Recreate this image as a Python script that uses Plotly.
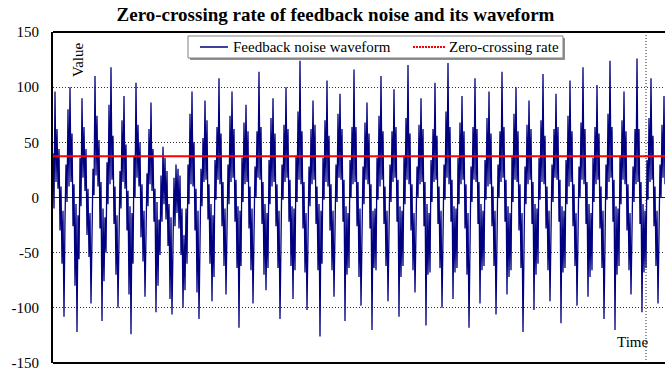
import plotly.graph_objects as go

# Feedback noise waveform samples, one value per time step (grouped in segments)
wave_seg1 = [
    40, -10, 96, 14, 62, 8, 44, -30, 10, -60, -12, -108, -20,
    30, -4, 80, 10, 100, 14, 58, -26, 12, -80, -6, -122, -16, -56,
    36, -8, 90, 18, 64, 6, 44, -34, 8, -54, -14, -96, -22,
    26, 2, 110, 20, 74, 10, 52, -28, 14, -112, -10, -76, -18, -50,
    32, -6, 84, 12, 118, 16, 56, -24, 10, -70, -16, -100, -26,
    24, -10, 70, 14, 92, 8, 48, -30, 6, -88, -8, -124, -14, -60,
    38, 0, 104, 18, 66, 10, 50, -36, 12, -58, -12, -90, -18,
    22, -8, 62, 12, 86, 6, 44, -22, 8, -104, -4, -80, -20, -52,
]
wave_seg2 = [
    20, -22, 46, -6, 36, -20, 24, -44, -6, -92, -18, -106, -30,
    18, -26, 30, -14, 26, -28, 20, -52, -10, -100, -34, -84, -10, -60,
    30, -6, 76, 12, 96, 10, 50, -30, 8, -86, -12, -110, -16,
    26, -8, 54, 14, 88, 16, 70, -20, 12, -60, -6, -94, -16, -72,
    34, -2, 64, 16, 108, 12, 58, -26, 14, -62, -10, -88, -14,
    30, -6, 74, 14, 96, 18, 62, -22, 16, -64, -8, -118, -12, -62,
    36, -4, 68, 12, 84, 14, 60, -28, 10, -66, -10, -96, -18,
    28, 0, 60, 18, 114, 16, 64, -24, 14, -70, -6, -84, -14, -64,
]
wave_seg3 = [
    34, -6, 72, 10, 90, 14, 58, -26, 12, -64, -12, -110, -16,
    30, -2, 66, 14, 100, 18, 62, -22, 16, -62, -8, -92, -10, -66,
    38, -4, 78, 16, 124, 12, 60, -28, 14, -68, -14, -102, -12,
    28, -8, 62, 12, 88, 16, 66, -24, 10, -66, -6, -126, -12, -60,
    36, -2, 70, 14, 106, 10, 56, -30, 12, -66, -12, -90, -18,
    30, -4, 76, 18, 94, 16, 62, -22, 16, -112, -8, -70, -14, -64,
    34, 0, 64, 12, 116, 14, 64, -26, 14, -72, -10, -98, -16,
    28, -6, 68, 16, 86, 12, 58, -28, 12, -120, -12, -64, -10, -66,
]
wave_seg4 = [
    36, -2, 74, 10, 110, 16, 60, -24, 10, -62, -12, -94, -14,
    30, -4, 60, 14, 98, 18, 64, -22, 16, -108, -8, -72, -12, -62,
    38, -6, 72, 16, 120, 12, 58, -30, 12, -66, -14, -86, -18,
    28, 0, 66, 12, 90, 14, 62, -26, 14, -116, -6, -70, -14, -68,
    34, -4, 62, 14, 104, 16, 56, -24, 10, -64, -12, -100, -16,
    30, -2, 78, 18, 122, 12, 64, -22, 16, -92, -8, -68, -10, -64,
    36, -6, 68, 12, 92, 16, 60, -28, 12, -70, -14, -118, -12,
    28, -4, 64, 16, 108, 14, 62, -24, 14, -96, -6, -66, -12, -62,
]
wave_seg5 = [
    34, -2, 72, 10, 96, 12, 58, -26, 10, -62, -12, -106, -18,
    30, 0, 60, 14, 114, 18, 64, -22, 16, -88, -8, -72, -14, -66,
    38, -4, 76, 16, 100, 14, 60, -30, 12, -64, -14, -122, -14,
    28, -6, 66, 12, 88, 16, 62, -24, 14, -102, -6, -70, -10, -60,
    36, -2, 70, 14, 112, 12, 56, -28, 10, -66, -12, -94, -16,
    30, -4, 62, 18, 94, 16, 64, -22, 16, -114, -8, -68, -12, -64,
    34, -6, 74, 10, 106, 14, 60, -26, 12, -62, -14, -98, -18,
]
wave_seg6 = [
    28, 0, 68, 16, 118, 12, 62, -24, 14, -90, -6, -72, -14, -66,
    36, -4, 64, 12, 102, 16, 58, -28, 10, -64, -12, -110, -14,
    30, -2, 76, 14, 124, 18, 64, -22, 16, -120, -8, -70, -10, -62,
    38, -6, 70, 16, 96, 12, 60, -30, 12, -66, -14, -88, -16,
    28, -4, 62, 12, 126, 14, 62, -24, 14, -104, -6, -68, -12, -64,
    34, -2, 72, 14, 108, 16, 56, -26, 10, -62, -12, -96, -18,
    30, 0, 66, 18, 92, 12, 64, -22, 16, -116, -8, -72, -14, -66,
    36, -4, 74, 10, 104, 14, 60, -28, 12, -64, -14, -92, -16,
]

# Zero-crossing rate level
zcr_level = 37.5

# Axis settings
y_ticks = [-150, -100, -50, 0, 50, 100, 150]
y_range = [-150, 150]
visible_steps = 612
time_marker_step = 593

waveform = wave_seg1 + wave_seg2 + wave_seg3 + wave_seg4 + wave_seg5 + wave_seg6
steps = list(range(len(waveform)))

SERIF = "Liberation Serif, Times New Roman, serif"
WAVE_COLOR = "#000080"
ZCR_COLOR = "#ff0000"

# plot-area geometry in pixels (used to place legend pieces in paper units)
L, R, T, B = 53, 665, 32, 363


def px_x(x):
    return (x - L) / (R - L)


def px_y(y):
    return (B - y) / (B - T)


fig = go.Figure()

fig.add_trace(go.Scatter(
    x=steps, y=waveform, mode="lines",
    name="Feedback noise waveform",
    line=dict(color=WAVE_COLOR, width=1.3),
))

fig.add_trace(go.Scatter(
    x=[steps[0], steps[-1]], y=[zcr_level, zcr_level], mode="lines",
    name="Zero-crossing rate",
    line=dict(color=ZCR_COLOR, width=2),
))

legend_y = px_y(47)
shapes = [
    # frame top / bottom
    dict(type="line", xref="paper", yref="paper", x0=0, x1=1, y0=1, y1=1,
         line=dict(color="black", width=2)),
    dict(type="line", xref="paper", yref="paper", x0=0, x1=1, y0=0, y1=0,
         line=dict(color="black", width=2)),
    # vertical time marker
    dict(type="line", xref="x", yref="paper", x0=time_marker_step, x1=time_marker_step,
         y0=0, y1=1, line=dict(color="#202020", width=1, dash="1px,2px"), layer="above"),
    # legend box with a light shadow
    dict(type="rect", xref="paper", yref="paper",
         x0=px_x(190), x1=px_x(565), y0=px_y(60), y1=px_y(38),
         line=dict(width=0), fillcolor="#909090", layer="above"),
    dict(type="rect", xref="paper", yref="paper",
         x0=px_x(188), x1=px_x(563), y0=px_y(58), y1=px_y(36),
         line=dict(color="#808080", width=1), fillcolor="white", layer="above"),
    # legend samples
    dict(type="line", xref="paper", yref="paper", x0=px_x(200), x1=px_x(228),
         y0=legend_y, y1=legend_y, line=dict(color=WAVE_COLOR, width=1.5), layer="above"),
    dict(type="line", xref="paper", yref="paper", x0=px_x(413), x1=px_x(445),
         y0=legend_y, y1=legend_y, line=dict(color=ZCR_COLOR, width=2, dash="2px,1px"),
         layer="above"),
]

annotations = [
    dict(text="Feedback noise waveform", xref="paper", yref="paper",
         x=px_x(231), y=legend_y, xanchor="left", yanchor="middle", showarrow=False,
         font=dict(family=SERIF, size=15, color="black")),
    dict(text="Zero-crossing rate", xref="paper", yref="paper",
         x=px_x(447), y=legend_y, xanchor="left", yanchor="middle", showarrow=False,
         font=dict(family=SERIF, size=15, color="black")),
    dict(text="Value", xref="paper", yref="paper", x=px_x(78), y=px_y(60),
         textangle=-90, showarrow=False, font=dict(family=SERIF, size=15, color="black"),
         xanchor="center", yanchor="middle"),
    dict(text="Time", xref="paper", yref="paper", x=px_x(632), y=px_y(342),
         showarrow=False, font=dict(family=SERIF, size=15, color="black"),
         xanchor="center", yanchor="middle"),
]

fig.update_layout(
    width=665, height=376,
    margin=dict(l=L, r=0, t=T, b=376 - B),
    paper_bgcolor="white", plot_bgcolor="white",
    font=dict(family=SERIF, size=15, color="black"),
    title=dict(
        text="<b>Zero-crossing rate of feedback noise and its waveform</b>",
        x=0.5045, xanchor="center", xref="container",
        y=0.963, yanchor="middle", yref="container",
        font=dict(family=SERIF, size=19, color="black"),
    ),
    showlegend=False,
    xaxis=dict(
        range=[0, visible_steps], showgrid=False, zeroline=False,
        showticklabels=False, ticks="", showline=False,
    ),
    yaxis=dict(
        range=y_range, tickvals=y_ticks, ticktext=[str(v) for v in y_ticks],
        showgrid=True, gridcolor="#303030", gridwidth=1, griddash="1px,2px",
        zeroline=True, zerolinecolor="#202020", zerolinewidth=1,
        showline=True, linecolor="black", linewidth=2,
        ticks="", ticklabelstandoff=9,
        tickfont=dict(family=SERIF, size=15, color="black"),
    ),
    shapes=shapes,
    annotations=annotations,
)

fig.write_html("out.html")
